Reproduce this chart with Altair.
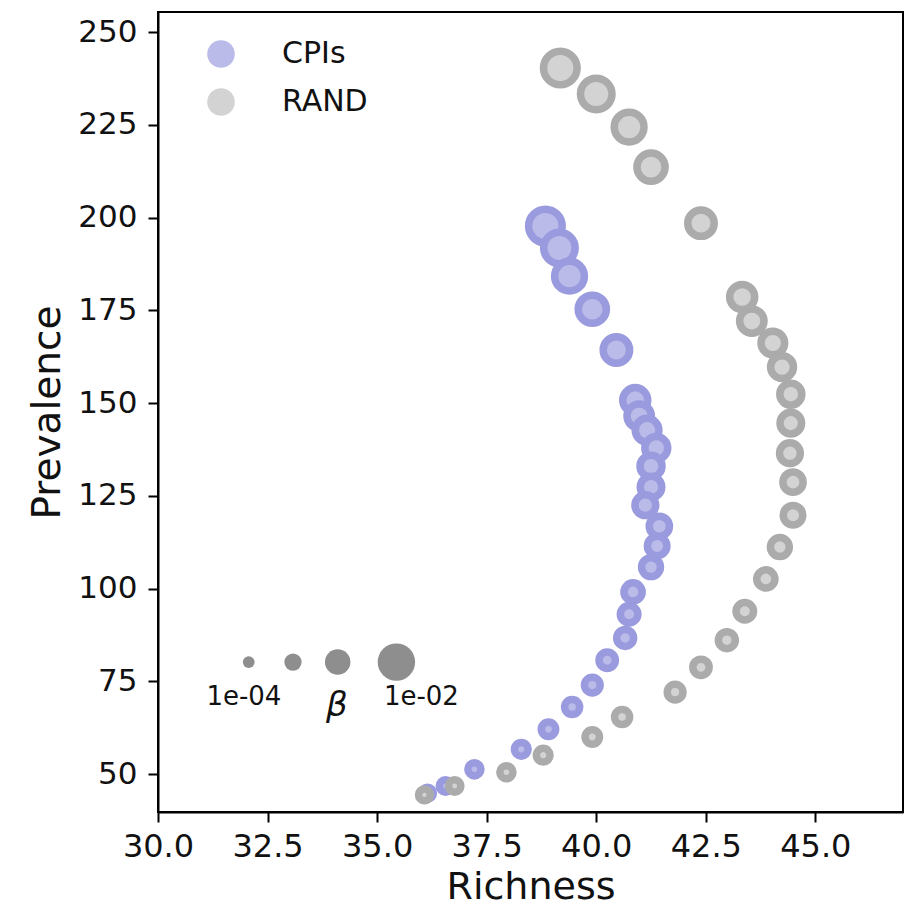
import altair as alt
import pandas as pd

# Estimated beta per step (shared by both series), largest first
beta = [0.0065, 0.0050, 0.0040, 0.0032, 0.0025, 0.0020, 0.0018, 0.0016,
        0.0014, 0.0012, 0.0011, 0.00095, 0.00085, 0.00074, 0.00065, 0.00056,
        0.00048, 0.00042, 0.00036, 0.00031, 0.00026, 0.00022, 0.00018,
        0.00015, 0.00012, 0.00010]

cpi_richness = [38.84, 39.16, 39.39, 39.91, 40.46, 40.89, 40.98, 41.16,
                41.37, 41.25, 41.25, 41.12, 41.44, 41.39, 41.25, 40.84,
                40.75, 40.66, 40.25, 39.91, 39.45, 38.91, 38.29, 37.22,
                36.56, 36.15]
cpi_prevalence = [197.7, 191.8, 184.2, 175.3, 164.3, 150.8, 146.5, 142.7,
                  137.9, 133.0, 127.4, 122.5, 116.8, 111.5, 105.8, 99.1,
                  93.1, 86.7, 80.7, 74.0, 68.1, 62.1, 56.7, 51.3, 46.8, 44.9]

rand_richness = [39.18, 40.00, 40.75, 41.25, 42.39, 43.33, 43.55, 44.03,
                 44.24, 44.44, 44.44, 44.42, 44.49, 44.49, 44.19, 43.87,
                 43.39, 42.98, 42.39, 41.80, 40.59, 39.91, 38.79, 37.95,
                 36.77, 36.08]
rand_prevalence = [240.3, 233.3, 224.4, 213.6, 198.5, 178.6, 172.1, 166.2,
                   159.7, 152.4, 144.6, 136.5, 128.7, 119.8, 111.2, 102.6,
                   93.9, 86.1, 78.8, 72.1, 65.4, 60.0, 55.1, 50.5, 46.8, 44.4]

groups = ["CPIs", "RAND"]
fill_colors = ["#bbbbe9", "#d3d3d3"]
stroke_colors = ["#9a9ade", "#ababab"]

# Size key: beta values and where the key sits (data units)
key_beta = [0.0001, 0.00046, 0.00215, 0.01]
key_richness = [32.07, 33.08, 34.10, 35.44]
key_prevalence = [80.2, 80.2, 80.2, 80.2]
key_labels = ["1e-04", "1e-02"]
key_label_richness = [31.96, 36.01]
key_label_prevalence = [70.7, 70.7]
beta_symbol = ["β"]
beta_symbol_richness = [34.08]
beta_symbol_prevalence = [68.4]

x_ticks = [30.0, 32.5, 35.0, 37.5, 40.0, 42.5, 45.0]
y_ticks = [50, 75, 100, 125, 150, 175, 200, 225, 250]

FONT = "DejaVu Sans"

points = pd.DataFrame({
    "richness": cpi_richness + rand_richness,
    "prevalence": cpi_prevalence + rand_prevalence,
    "beta": beta + beta,
    "group": ["CPIs"] * len(cpi_richness) + ["RAND"] * len(rand_richness),
})
key = pd.DataFrame({"richness": key_richness, "prevalence": key_prevalence,
                    "beta": key_beta})
key_text = pd.DataFrame({"richness": key_label_richness,
                         "prevalence": key_label_prevalence,
                         "label": key_labels})
beta_text = pd.DataFrame({"richness": beta_symbol_richness,
                          "prevalence": beta_symbol_prevalence,
                          "label": beta_symbol})

x_scale = alt.Scale(domain=[30, 47], nice=False, zero=False)
y_scale = alt.Scale(domain=[39.8, 255.4], nice=False, zero=False)
size_scale = alt.Scale(type="sqrt", domain=[0, 0.01], range=[0, 1400])

x_enc = alt.X("richness:Q", scale=x_scale, title="Richness",
              axis=alt.Axis(values=x_ticks, format=".1f", grid=False,
                            labelFontSize=32, titleFontSize=38,
                            labelFont=FONT, titleFont=FONT,
                            titleFontWeight="normal", tickSize=10,
                            tickWidth=2, domainWidth=2, domainColor="black",
                            tickColor="black", labelColor="#111",
                            titleColor="#111", labelPadding=9,
                            titlePadding=6, labelFlush=False))
y_enc = alt.Y("prevalence:Q", scale=y_scale, title="Prevalence",
              axis=alt.Axis(values=y_ticks, format="d", grid=False,
                            labelFontSize=31, titleFontSize=39,
                            labelFont=FONT, titleFont=FONT,
                            titleFontWeight="normal", tickSize=10,
                            tickWidth=2, domainWidth=2, domainColor="black",
                            tickColor="black", labelColor="#111",
                            titleColor="#111", labelPadding=11,
                            titlePadding=10, labelFlush=False))

scatter = alt.Chart(points).mark_circle(opacity=1, strokeWidth=7.5).encode(
    x=x_enc,
    y=y_enc,
    size=alt.Size("beta:Q", scale=size_scale, legend=None),
    fill=alt.Fill("group:N",
                  scale=alt.Scale(domain=groups, range=fill_colors),
                  legend=alt.Legend(title=None, orient="none",
                                    legendX=48, legendY=27,
                                    labelFontSize=30, labelFont=FONT,
                                    labelColor="#111",
                                    symbolType="circle", symbolSize=760,
                                    symbolStrokeWidth=0, symbolOpacity=1,
                                    labelOffset=46, rowPadding=18,
                                    padding=0)),
    stroke=alt.Stroke("group:N",
                      scale=alt.Scale(domain=groups, range=stroke_colors),
                      legend=None),
)

key_marks = alt.Chart(key).mark_circle(opacity=1, color="#8e8e8e").encode(
    x=alt.X("richness:Q", scale=x_scale),
    y=alt.Y("prevalence:Q", scale=y_scale),
    size=alt.Size("beta:Q", scale=size_scale, legend=None),
)

key_labels_layer = alt.Chart(key_text).mark_text(
    font=FONT, fontSize=26, color="#111", baseline="middle", align="center"
).encode(
    x=alt.X("richness:Q", scale=x_scale),
    y=alt.Y("prevalence:Q", scale=y_scale),
    text="label:N",
)

beta_layer = alt.Chart(beta_text).mark_text(
    font=FONT, fontSize=34, fontStyle="italic", color="#111",
    baseline="middle", align="center"
).encode(
    x=alt.X("richness:Q", scale=x_scale),
    y=alt.Y("prevalence:Q", scale=y_scale),
    text="label:N",
)

chart = alt.layer(scatter, key_marks, key_labels_layer, beta_layer).properties(
    width=745,
    height=800,
    padding={"left": 158, "top": 12, "right": 8, "bottom": 95},
    autosize=alt.AutoSizeParams(type="none"),
    background="white",
).configure_view(stroke="black", strokeWidth=2)

chart.save("out.html", embed_options={"renderer": "svg", "actions": False})
